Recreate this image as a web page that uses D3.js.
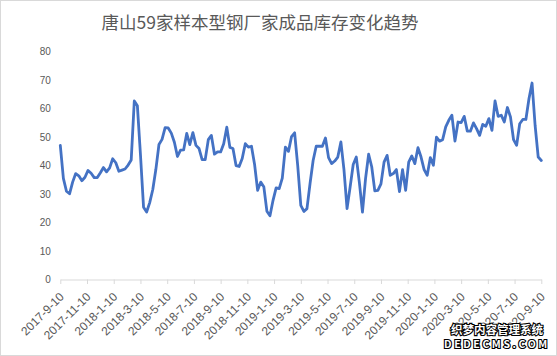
<!DOCTYPE html>
<html><head><meta charset="utf-8">
<script src="https://cdn.jsdelivr.net/npm/d3@7"></script>
<style>body{margin:0;background:#fff}svg{display:block}</style>
</head><body>
<svg id="c" width="557" height="356"></svg>
<script>
const title = "唐山59家样本型钢厂家成品库存变化趋势";
const tickLabels = ["2017-9-10","2017-11-10","2018-1-10","2018-3-10","2018-5-10","2018-7-10","2018-9-10","2018-11-10","2019-1-10","2019-3-10","2019-5-10","2019-7-10","2019-9-10","2019-11-10","2020-1-10","2020-3-10","2020-5-10","2020-7-10","2020-9-10"];
const yTicks = [0,10,20,30,40,50,60,70,80];
const inventory = [
47.1,35.5,31,30.1,34.2,37.2,36.4,34.7,35.9,38.3,
37.3,35.8,35.8,37.5,39.3,37.8,39.2,42.4,41,38,
38.4,38.8,40.2,42,62.7,61,43.8,25.4,23.7,27,
31.6,38.7,47.4,49.2,53.3,53.2,51.4,48.2,43.2,45.4,
45.5,51.3,47.4,51.6,47.1,46,42.1,42.1,49.1,50.6,
44,44.8,44.8,47.7,53.5,46.4,46,40,39.7,42.5,
47.7,46.5,46.8,40.5,31.3,34.2,32.6,24,22.4,27.8,
32.2,31.9,35.6,46.5,45,50.2,51.5,40,26,23.9,
24.9,33.7,41.8,46.8,46.8,46.8,49.7,42.8,40.7,41.6,
43,48.3,38.6,24.9,32.5,40.4,43,34,23.7,35.4,
44,39.6,31.1,31.3,33.6,41.2,43.6,36.6,37.2,38.6,
30.9,38.6,31.3,41.2,43.4,40.7,46.3,43,38.6,36.6,
42.8,40.1,50,48.6,49.1,53.6,55.9,57.7,48.6,55.3,
55.1,57.3,52.1,52.1,55,53,50.6,54.5,53.8,56.5,
52.4,62.7,57.3,57.7,55.3,60.4,57.1,49.1,47.1,54.7,
56.2,56.2,63.5,69,54,43,41.8
];
const watermark = ["织梦内容管理系统", "DEDECMS.COM"];

const svg = d3.select("#c");
const W = 557, H = 356;
const plotL = 60.3, plotR = 541.3, plotB = 279.5, plotT = 51.7;

const xIdx = d3.scaleLinear().domain([0, inventory.length - 1]).range([plotL, plotR]);
const xTick = d3.scalePoint().domain(tickLabels).range([plotL, plotR]);
const y = d3.scaleLinear().domain([0, 80]).range([plotB, plotT]);

svg.append("rect").attr("x",0.5).attr("y",0.5).attr("width",W-1).attr("height",H-1)
  .attr("fill","#fff").attr("stroke","#d9d9d9");

svg.append("text").attr("x",260).attr("y",29).attr("text-anchor","middle")
  .attr("font-family","'Noto Sans CJK SC', sans-serif").attr("font-size",17.5)
  .attr("fill","#595959").text(title);

// y axis (labels only)
const ya = svg.append("g").attr("transform",`translate(${plotL},0)`)
  .call(d3.axisLeft(y).tickValues(yTicks).tickSize(0).tickPadding(9.5));
ya.select(".domain").remove();
ya.selectAll("text").attr("font-family","'Liberation Sans', Arial, sans-serif")
  .attr("font-size",10).attr("fill","#595959");

// x axis
const xa = svg.append("g").attr("transform",`translate(0,${plotB})`)
  .call(d3.axisBottom(xTick).tickSize(4.5).tickSizeOuter(0));
xa.select(".domain").attr("stroke","#d9d9d9");
xa.selectAll(".tick line").attr("stroke","#d9d9d9");
xa.selectAll("text").attr("font-family","'Liberation Sans', Arial, sans-serif")
  .attr("font-size",12).attr("fill","#595959")
  .attr("x",0).attr("y",0).attr("dy",null)
  .attr("transform","translate(4,18) rotate(-45)")
  .style("text-anchor","end");

// line
const line = d3.line().x((d,i)=>xIdx(i)).y(d=>y(d));
svg.append("path").datum(inventory).attr("d",line)
  .attr("fill","none").attr("stroke","#4472C4").attr("stroke-width",2.8)
  .attr("stroke-linejoin","round").attr("stroke-linecap","round");

// watermark
const wm = svg.append("g").attr("font-family","'Noto Sans CJK SC', sans-serif")
  .attr("font-weight","bold").attr("fill","#fff").attr("stroke","#000")
  .attr("stroke-width",2.2).attr("paint-order","stroke");
wm.append("text").attr("x",497).attr("y",333.5).attr("text-anchor","middle")
  .attr("font-size",11.5).text(watermark[0]);
wm.append("text").attr("x",497).attr("y",347.5).attr("text-anchor","middle")
  .attr("font-size",10.5).attr("letter-spacing",2.6).text(watermark[1]);
</script>
</body></html>
